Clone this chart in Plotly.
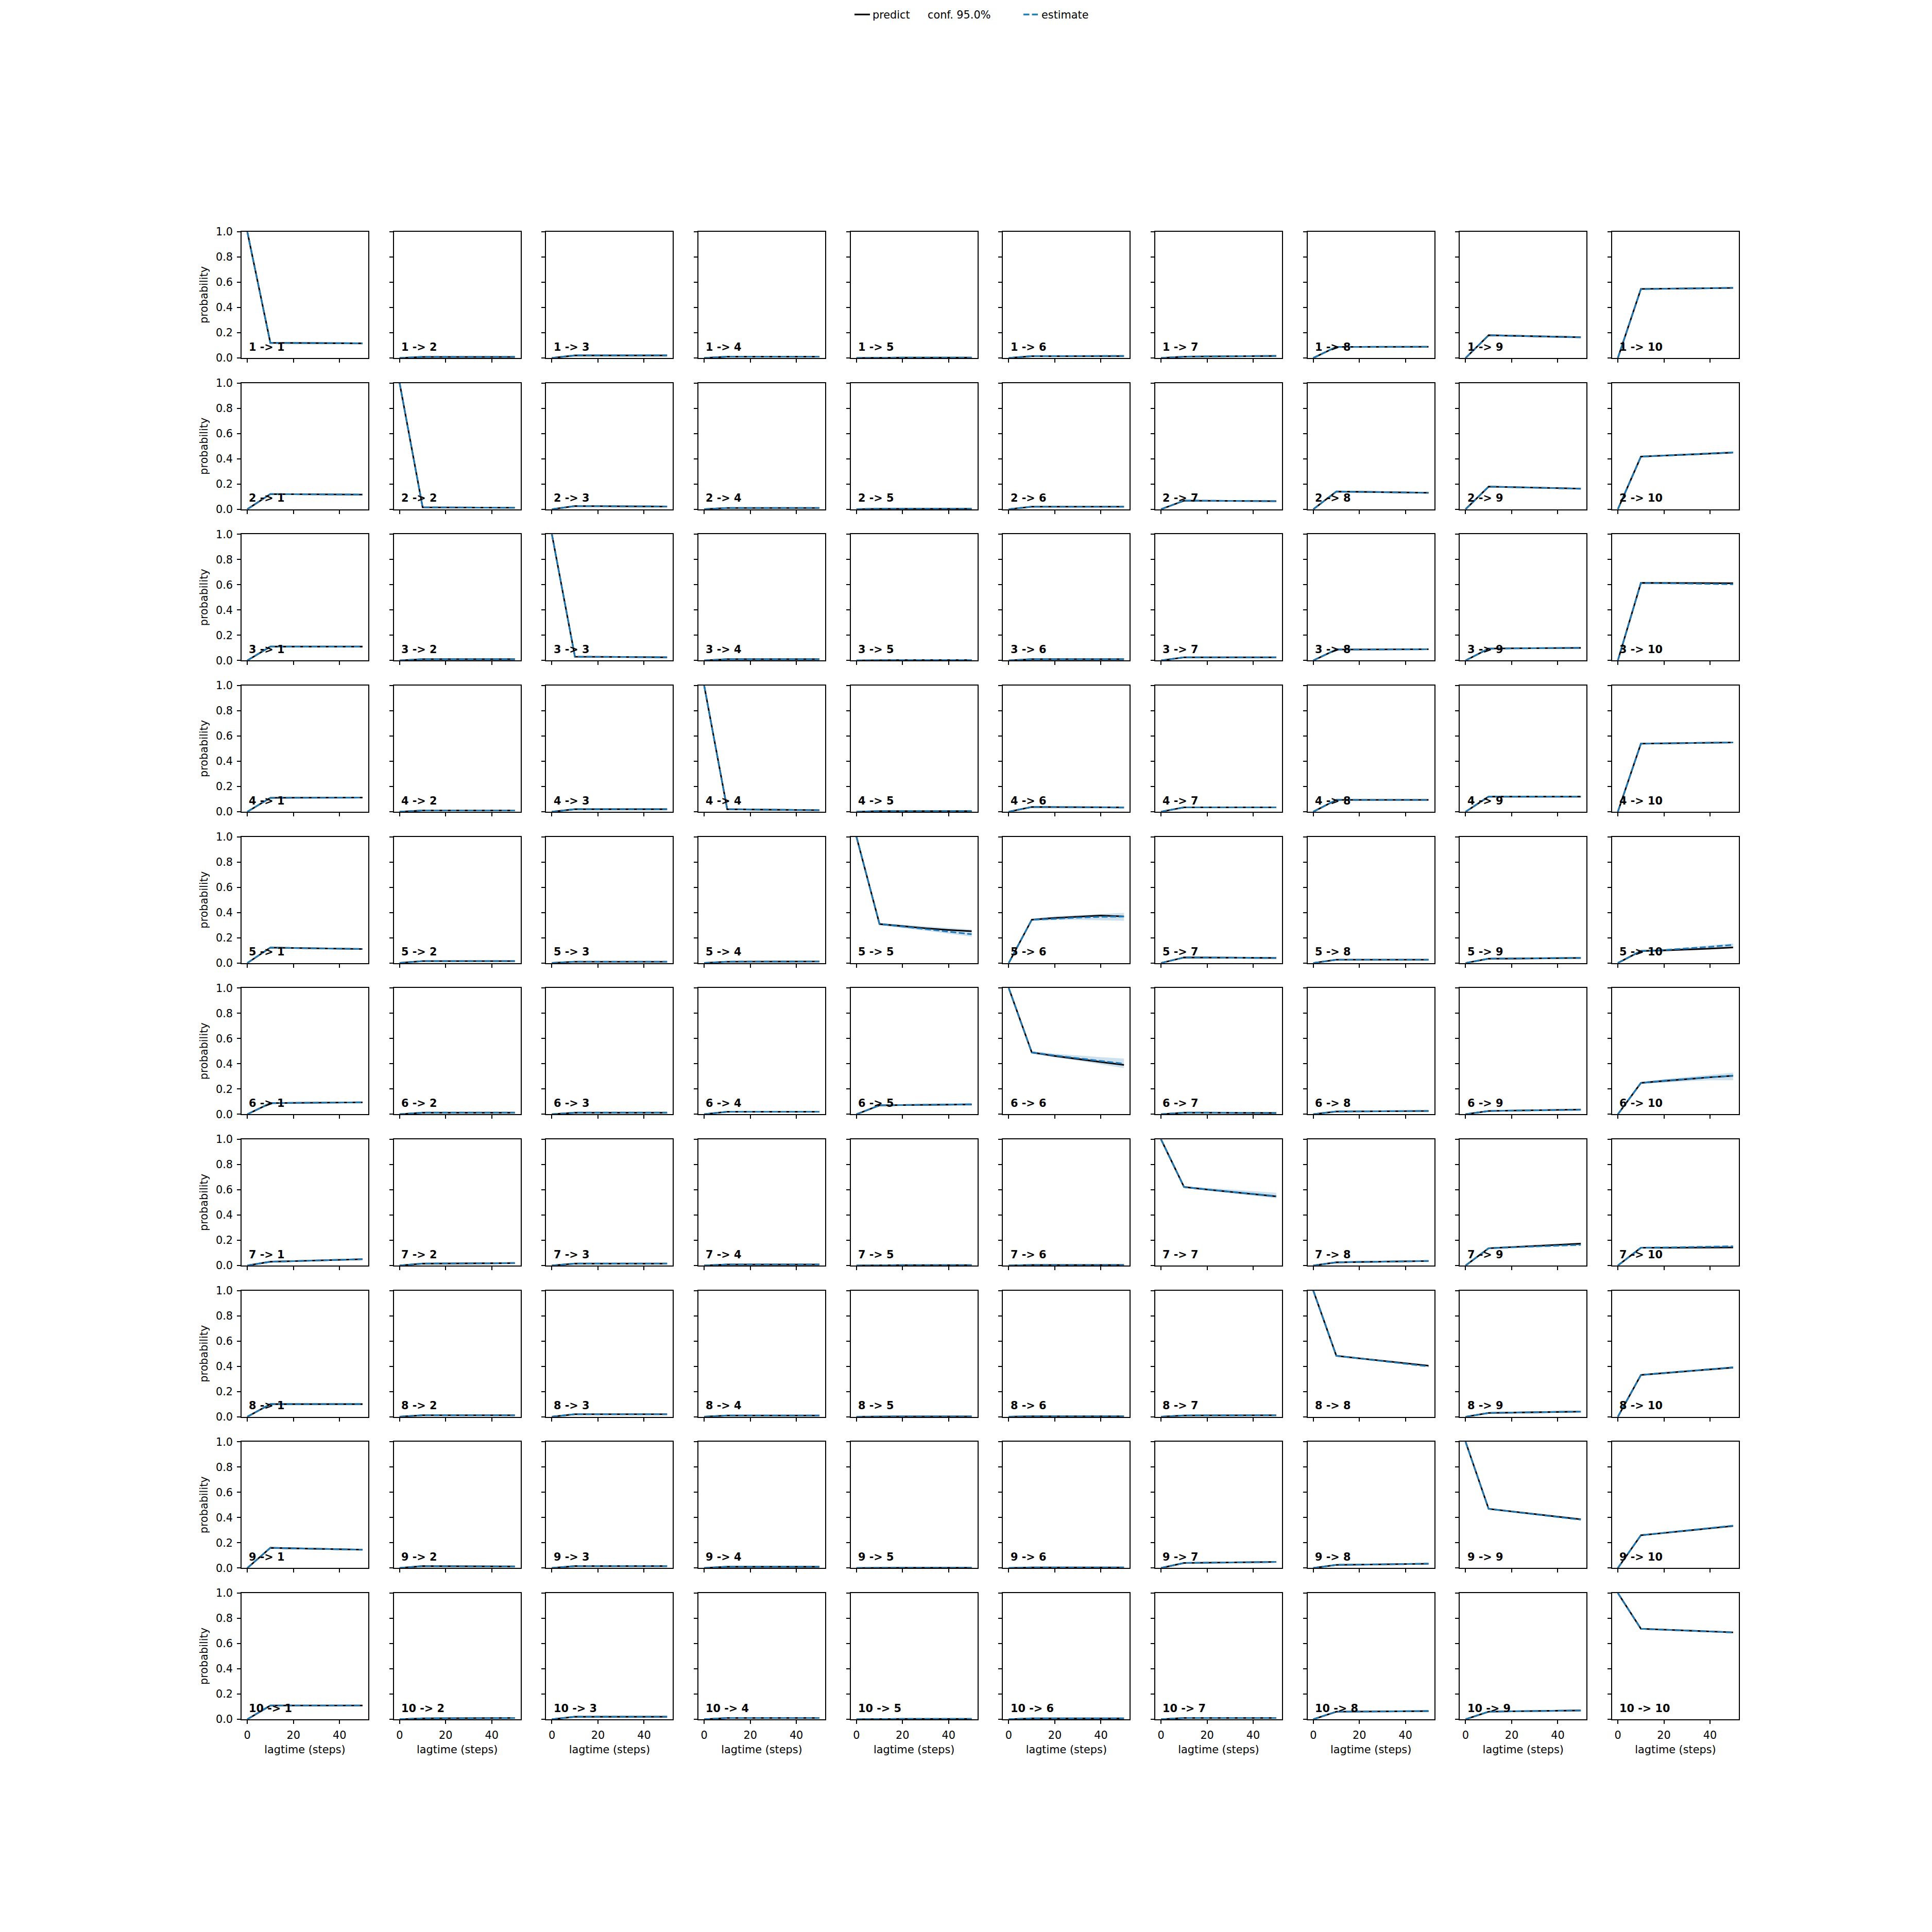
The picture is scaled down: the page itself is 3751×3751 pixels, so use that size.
import plotly.graph_objects as go
from plotly.subplots import make_subplots

# ---------------- data ----------------
LAGTIMES = [0, 10, 20, 30, 40, 50]
STATES = ["1", "2", "3", "4", "5", "6", "7", "8", "9", "10"]
Y_TICKS = [0.0, 0.2, 0.4, 0.6, 0.8, 1.0]
X_TICKS = [0, 20, 40]

# predictions (black solid), one list per target state
PRED_1 = [[1, 0.120, 0.119, 0.118, 0.117, 0.116], [0, 0.008, 0.008, 0.008, 0.008, 0.008],
          [0, 0.020, 0.020, 0.020, 0.020, 0.020], [0, 0.010, 0.010, 0.010, 0.010, 0.010],
          [0, 0.003, 0.003, 0.003, 0.003, 0.003], [0, 0.014, 0.014, 0.015, 0.015, 0.015],
          [0, 0.010, 0.012, 0.013, 0.015, 0.016], [0, 0.088, 0.088, 0.088, 0.089, 0.089],
          [0, 0.180, 0.176, 0.172, 0.168, 0.164], [0, 0.547, 0.549, 0.551, 0.553, 0.555]]
PRED_2 = [[0, 0.120, 0.119, 0.118, 0.117, 0.116], [1, 0.015, 0.014, 0.013, 0.012, 0.012],
          [0, 0.025, 0.024, 0.023, 0.022, 0.021], [0, 0.010, 0.010, 0.010, 0.010, 0.010],
          [0, 0.004, 0.004, 0.004, 0.004, 0.004], [0, 0.020, 0.020, 0.020, 0.020, 0.020],
          [0, 0.068, 0.067, 0.066, 0.065, 0.064], [0, 0.140, 0.138, 0.135, 0.133, 0.130],
          [0, 0.179, 0.175, 0.171, 0.167, 0.163], [0, 0.417, 0.425, 0.433, 0.441, 0.449]]
PRED_3 = [[0, 0.110, 0.110, 0.110, 0.110, 0.110], [0, 0.010, 0.010, 0.010, 0.010, 0.010],
          [1, 0.030, 0.029, 0.027, 0.026, 0.025], [0, 0.010, 0.010, 0.010, 0.010, 0.010],
          [0, 0.003, 0.003, 0.003, 0.003, 0.003], [0, 0.010, 0.010, 0.010, 0.010, 0.010],
          [0, 0.025, 0.025, 0.025, 0.025, 0.025], [0, 0.087, 0.087, 0.088, 0.088, 0.089],
          [0, 0.094, 0.096, 0.097, 0.099, 0.100], [0, 0.615, 0.614, 0.614, 0.613, 0.612]]
PRED_4 = [[0, 0.110, 0.111, 0.111, 0.112, 0.112], [0, 0.010, 0.010, 0.010, 0.010, 0.010],
          [0, 0.020, 0.020, 0.020, 0.020, 0.020], [1, 0.020, 0.018, 0.016, 0.014, 0.012],
          [0, 0.005, 0.005, 0.005, 0.005, 0.005], [0, 0.038, 0.037, 0.036, 0.035, 0.034],
          [0, 0.035, 0.035, 0.035, 0.035, 0.035], [0, 0.094, 0.094, 0.094, 0.094, 0.094],
          [0, 0.120, 0.120, 0.120, 0.120, 0.120], [0, 0.540, 0.542, 0.545, 0.547, 0.549]]
PRED_5 = [[0, 0.122, 0.119, 0.116, 0.113, 0.111], [0, 0.015, 0.015, 0.015, 0.015, 0.015],
          [0, 0.010, 0.010, 0.010, 0.010, 0.010], [0, 0.010, 0.011, 0.011, 0.012, 0.012],
          [1, 0.309, 0.292, 0.275, 0.262, 0.252], [0, 0.343, 0.357, 0.366, 0.376, 0.369],
          [0, 0.044, 0.043, 0.042, 0.041, 0.040], [0, 0.026, 0.026, 0.026, 0.026, 0.026],
          [0, 0.034, 0.035, 0.037, 0.038, 0.040], [0, 0.095, 0.100, 0.106, 0.114, 0.123]]
PRED_6 = [[0, 0.088, 0.090, 0.091, 0.093, 0.094], [0, 0.012, 0.012, 0.012, 0.012, 0.012],
          [0, 0.012, 0.012, 0.012, 0.012, 0.012], [0, 0.020, 0.020, 0.020, 0.020, 0.020],
          [0, 0.071, 0.073, 0.075, 0.077, 0.078], [1, 0.490, 0.462, 0.437, 0.414, 0.391],
          [0, 0.012, 0.012, 0.011, 0.011, 0.010], [0, 0.022, 0.023, 0.024, 0.025, 0.026],
          [0, 0.026, 0.029, 0.031, 0.034, 0.037], [0, 0.248, 0.264, 0.279, 0.293, 0.305]]
PRED_7 = [[0, 0.030, 0.035, 0.040, 0.045, 0.050], [0, 0.015, 0.016, 0.017, 0.018, 0.019],
          [0, 0.015, 0.015, 0.015, 0.015, 0.015], [0, 0.008, 0.008, 0.008, 0.008, 0.008],
          [0, 0.003, 0.003, 0.003, 0.003, 0.003], [0, 0.004, 0.004, 0.004, 0.004, 0.004],
          [1, 0.622, 0.602, 0.585, 0.567, 0.548], [0, 0.025, 0.028, 0.031, 0.034, 0.036],
          [0, 0.137, 0.146, 0.155, 0.164, 0.173], [0, 0.141, 0.141, 0.142, 0.142, 0.143]]
PRED_8 = [[0, 0.100, 0.100, 0.100, 0.100, 0.100], [0, 0.012, 0.012, 0.012, 0.012, 0.012],
          [0, 0.020, 0.020, 0.020, 0.020, 0.020], [0, 0.010, 0.010, 0.010, 0.010, 0.010],
          [0, 0.003, 0.003, 0.003, 0.003, 0.003], [0, 0.004, 0.004, 0.004, 0.004, 0.004],
          [0, 0.010, 0.011, 0.011, 0.012, 0.012], [1, 0.483, 0.463, 0.444, 0.424, 0.405],
          [0, 0.030, 0.033, 0.036, 0.038, 0.041], [0, 0.331, 0.346, 0.361, 0.375, 0.390]]
PRED_9 = [[0, 0.160, 0.156, 0.152, 0.149, 0.145], [0, 0.015, 0.014, 0.013, 0.013, 0.012],
          [0, 0.015, 0.015, 0.015, 0.015, 0.015], [0, 0.010, 0.010, 0.010, 0.010, 0.010],
          [0, 0.002, 0.002, 0.002, 0.002, 0.002], [0, 0.004, 0.004, 0.004, 0.004, 0.004],
          [0, 0.040, 0.042, 0.044, 0.046, 0.048], [0, 0.025, 0.027, 0.030, 0.032, 0.034],
          [1, 0.469, 0.448, 0.427, 0.406, 0.386], [0, 0.260, 0.278, 0.296, 0.315, 0.333]]
PRED_10 = [[0, 0.109, 0.109, 0.109, 0.109, 0.109], [0, 0.007, 0.008, 0.009, 0.009, 0.010],
           [0, 0.020, 0.020, 0.020, 0.020, 0.020], [0, 0.010, 0.010, 0.010, 0.010, 0.010],
           [0, 0.003, 0.003, 0.003, 0.003, 0.003], [0, 0.007, 0.007, 0.007, 0.007, 0.007],
           [0, 0.010, 0.010, 0.010, 0.010, 0.010], [0, 0.060, 0.061, 0.062, 0.064, 0.065],
           [0, 0.060, 0.063, 0.065, 0.068, 0.070], [1, 0.717, 0.710, 0.703, 0.696, 0.689]]

# estimates (blue dashed)
EST_1 = [[1, 0.120, 0.119, 0.118, 0.117, 0.116], [0, 0.009, 0.009, 0.009, 0.009, 0.009],
         [0, 0.021, 0.021, 0.021, 0.021, 0.021], [0, 0.010, 0.010, 0.010, 0.010, 0.010],
         [0, 0.003, 0.003, 0.003, 0.003, 0.003], [0, 0.015, 0.015, 0.015, 0.015, 0.016],
         [0, 0.010, 0.012, 0.013, 0.015, 0.016], [0, 0.088, 0.088, 0.089, 0.089, 0.089],
         [0, 0.180, 0.176, 0.172, 0.168, 0.163], [0, 0.546, 0.548, 0.551, 0.554, 0.556]]
EST_2 = [[0, 0.120, 0.119, 0.118, 0.117, 0.116], [1, 0.015, 0.014, 0.013, 0.013, 0.012],
         [0, 0.025, 0.024, 0.023, 0.022, 0.022], [0, 0.010, 0.010, 0.010, 0.010, 0.010],
         [0, 0.004, 0.004, 0.004, 0.004, 0.004], [0, 0.020, 0.020, 0.020, 0.020, 0.020],
         [0, 0.068, 0.067, 0.066, 0.065, 0.064], [0, 0.140, 0.138, 0.135, 0.133, 0.130],
         [0, 0.179, 0.175, 0.171, 0.167, 0.162], [0, 0.417, 0.425, 0.434, 0.442, 0.450]]
EST_3 = [[0, 0.110, 0.110, 0.110, 0.110, 0.110], [0, 0.010, 0.010, 0.010, 0.010, 0.010],
         [1, 0.030, 0.029, 0.028, 0.027, 0.026], [0, 0.010, 0.010, 0.010, 0.010, 0.010],
         [0, 0.003, 0.003, 0.003, 0.003, 0.003], [0, 0.010, 0.010, 0.010, 0.010, 0.010],
         [0, 0.025, 0.025, 0.025, 0.025, 0.025], [0, 0.087, 0.087, 0.088, 0.088, 0.089],
         [0, 0.094, 0.096, 0.097, 0.099, 0.100], [0, 0.615, 0.612, 0.610, 0.607, 0.604]]
EST_4 = [[0, 0.110, 0.111, 0.111, 0.112, 0.112], [0, 0.010, 0.010, 0.010, 0.010, 0.010],
         [0, 0.020, 0.020, 0.020, 0.020, 0.020], [1, 0.020, 0.018, 0.016, 0.014, 0.012],
         [0, 0.005, 0.005, 0.005, 0.005, 0.005], [0, 0.038, 0.037, 0.036, 0.035, 0.034],
         [0, 0.035, 0.035, 0.035, 0.035, 0.035], [0, 0.094, 0.094, 0.094, 0.094, 0.094],
         [0, 0.120, 0.120, 0.120, 0.120, 0.120], [0, 0.540, 0.542, 0.545, 0.547, 0.549]]
EST_5 = [[0, 0.122, 0.119, 0.116, 0.113, 0.111], [0, 0.015, 0.015, 0.015, 0.015, 0.015],
         [0, 0.010, 0.010, 0.010, 0.010, 0.010], [0, 0.010, 0.011, 0.011, 0.012, 0.012],
         [1, 0.309, 0.289, 0.268, 0.248, 0.228], [0, 0.343, 0.350, 0.360, 0.366, 0.368],
         [0, 0.044, 0.043, 0.042, 0.041, 0.040], [0, 0.026, 0.026, 0.026, 0.026, 0.026],
         [0, 0.034, 0.036, 0.037, 0.039, 0.041], [0, 0.095, 0.103, 0.114, 0.128, 0.144]]
EST_6 = [[0, 0.088, 0.090, 0.091, 0.093, 0.094], [0, 0.012, 0.012, 0.012, 0.012, 0.012],
         [0, 0.012, 0.012, 0.012, 0.012, 0.012], [0, 0.020, 0.020, 0.020, 0.020, 0.020],
         [0, 0.071, 0.073, 0.075, 0.077, 0.078], [1, 0.490, 0.466, 0.444, 0.424, 0.400],
         [0, 0.012, 0.012, 0.011, 0.011, 0.010], [0, 0.022, 0.023, 0.024, 0.025, 0.026],
         [0, 0.026, 0.029, 0.031, 0.033, 0.035], [0, 0.248, 0.266, 0.281, 0.294, 0.306]]
EST_7 = [[0, 0.030, 0.035, 0.040, 0.045, 0.050], [0, 0.015, 0.016, 0.017, 0.018, 0.019],
         [0, 0.015, 0.015, 0.015, 0.015, 0.015], [0, 0.008, 0.008, 0.008, 0.008, 0.008],
         [0, 0.003, 0.003, 0.003, 0.003, 0.003], [0, 0.004, 0.004, 0.004, 0.004, 0.004],
         [1, 0.622, 0.603, 0.586, 0.568, 0.550], [0, 0.025, 0.028, 0.031, 0.034, 0.036],
         [0, 0.137, 0.144, 0.151, 0.158, 0.164], [0, 0.141, 0.143, 0.146, 0.149, 0.152]]
EST_8 = [[0, 0.100, 0.100, 0.100, 0.100, 0.100], [0, 0.012, 0.012, 0.012, 0.012, 0.012],
         [0, 0.020, 0.020, 0.020, 0.020, 0.020], [0, 0.010, 0.010, 0.010, 0.010, 0.010],
         [0, 0.003, 0.003, 0.003, 0.003, 0.003], [0, 0.004, 0.004, 0.004, 0.004, 0.004],
         [0, 0.010, 0.011, 0.011, 0.012, 0.012], [1, 0.483, 0.462, 0.441, 0.420, 0.399],
         [0, 0.030, 0.033, 0.036, 0.038, 0.041], [0, 0.331, 0.347, 0.362, 0.377, 0.392]]
EST_9 = [[0, 0.160, 0.156, 0.152, 0.149, 0.145], [0, 0.015, 0.014, 0.013, 0.013, 0.012],
         [0, 0.015, 0.015, 0.015, 0.015, 0.015], [0, 0.010, 0.010, 0.010, 0.010, 0.010],
         [0, 0.002, 0.002, 0.002, 0.002, 0.002], [0, 0.004, 0.004, 0.004, 0.004, 0.004],
         [0, 0.040, 0.042, 0.044, 0.046, 0.048], [0, 0.025, 0.027, 0.030, 0.032, 0.034],
         [1, 0.469, 0.447, 0.426, 0.404, 0.383], [0, 0.260, 0.279, 0.298, 0.317, 0.336]]
EST_10 = [[0, 0.109, 0.109, 0.109, 0.109, 0.109], [0, 0.007, 0.008, 0.009, 0.009, 0.010],
          [0, 0.020, 0.020, 0.020, 0.020, 0.020], [0, 0.010, 0.010, 0.010, 0.010, 0.010],
          [0, 0.003, 0.003, 0.003, 0.003, 0.003], [0, 0.007, 0.007, 0.007, 0.007, 0.007],
          [0, 0.010, 0.010, 0.010, 0.010, 0.010], [0, 0.060, 0.061, 0.062, 0.064, 0.065],
          [0, 0.060, 0.063, 0.065, 0.068, 0.070], [1, 0.717, 0.710, 0.703, 0.695, 0.688]]

# 95% confidence band (only where visibly wider than the line)
CONF_LO = {
    (5, 5): [1, 0.300, 0.276, 0.256, 0.232, 0.209],
    (5, 6): [0, 0.333, 0.340, 0.342, 0.338, 0.334],
    (5, 10): [0, 0.090, 0.097, 0.105, 0.116, 0.128],
    (6, 5): [0, 0.066, 0.067, 0.067, 0.068, 0.068],
    (6, 6): [1, 0.480, 0.450, 0.425, 0.395, 0.366],
    (6, 10): [0, 0.240, 0.250, 0.262, 0.270, 0.270],
    (7, 7): [1, 0.615, 0.593, 0.572, 0.552, 0.533],
    (7, 9): [0, 0.132, 0.138, 0.144, 0.150, 0.155],
    (7, 10): [0, 0.136, 0.137, 0.138, 0.139, 0.140],
}
CONF_HI = {
    (5, 5): [1, 0.318, 0.303, 0.290, 0.278, 0.266],
    (5, 6): [0, 0.353, 0.370, 0.380, 0.390, 0.398],
    (5, 10): [0, 0.100, 0.110, 0.123, 0.140, 0.155],
    (6, 5): [0, 0.076, 0.080, 0.083, 0.087, 0.090],
    (6, 6): [1, 0.500, 0.480, 0.465, 0.452, 0.441],
    (6, 10): [0, 0.256, 0.278, 0.296, 0.313, 0.330],
    (7, 7): [1, 0.628, 0.615, 0.602, 0.590, 0.577],
    (7, 9): [0, 0.140, 0.149, 0.158, 0.167, 0.175],
    (7, 10): [0, 0.146, 0.150, 0.153, 0.157, 0.160],
}

PRED = [PRED_1, PRED_2, PRED_3, PRED_4, PRED_5, PRED_6, PRED_7, PRED_8, PRED_9, PRED_10]
EST = [EST_1, EST_2, EST_3, EST_4, EST_5, EST_6, EST_7, EST_8, EST_9, EST_10]

# ---------------- figure ----------------
PAGE = 3751
OFF = 8                      # default body margin of the html page
W = H = PAGE - OFF
ML, MR, MT, MB = 469 - OFF, 375, 450 - OFF, 413
N = 10
FONT = "DejaVu Sans"
FS = 20.8
LW = 3.1
SPINE = 1.7

PLOT_L = OFF + ML            # page px of the plot area
PLOT_W = W - ML - MR
PLOT_B = OFF + H - MB
PLOT_H = H - MT - MB


def px_x(p):
    return (p - PLOT_L) / PLOT_W


def px_y(p):
    return (PLOT_B - p) / PLOT_H


fig = make_subplots(rows=N, cols=N, horizontal_spacing=0.01706, vertical_spacing=0.01685)

BLUE = "#1f77b4"
BAND = "rgba(31,119,180,0.22)"

for r in range(N):
    for c in range(N):
        row, col = r + 1, c + 1
        key = (row, col)
        if key in CONF_LO:
            fig.add_trace(go.Scatter(x=LAGTIMES, y=CONF_LO[key], mode="lines",
                                     line=dict(width=0, color=BAND), showlegend=False,
                                     hoverinfo="skip"), row=row, col=col)
            fig.add_trace(go.Scatter(x=LAGTIMES, y=CONF_HI[key], mode="lines",
                                     line=dict(width=0, color=BAND), fill="tonexty",
                                     fillcolor=BAND, showlegend=False,
                                     hoverinfo="skip"), row=row, col=col)
        first = (r == 0 and c == 0)
        fig.add_trace(go.Scatter(x=LAGTIMES, y=PRED[r][c], mode="lines",
                                 line=dict(color="black", width=LW),
                                 name="predict", legend="legend",
                                 showlegend=first), row=row, col=col)
        if first:
            fig.add_trace(go.Scatter(x=[None], y=[None], mode="lines",
                                     line=dict(color="rgba(0,0,0,0)", width=LW),
                                     name="conf. 95.0%", legend="legend2", showlegend=True),
                          row=row, col=col)
        fig.add_trace(go.Scatter(x=LAGTIMES, y=EST[r][c], mode="lines",
                                 line=dict(color=BLUE, width=LW, dash="11.5px,5px"),
                                 name="estimate", legend="legend3",
                                 showlegend=first), row=row, col=col)

        idx = "" if r * N + c == 0 else str(r * N + c + 1)
        fig.add_annotation(text="<b>%s -> %s</b>" % (STATES[r], STATES[c]),
                           xref="x%s domain" % idx, yref="y%s domain" % idx,
                           x=0.05, y=0.03, xanchor="left", yanchor="bottom",
                           showarrow=False, font=dict(family=FONT, size=FS, color="black"))

        fig.update_xaxes(row=row, col=col, range=[-2.5, 52.5], tickvals=X_TICKS,
                         ticks="outside", ticklen=7, tickwidth=SPINE, tickcolor="black",
                         showline=True, linecolor="black", linewidth=SPINE, mirror=True,
                         showgrid=False, zeroline=False, showticklabels=(row == N),
                         ticklabelstandoff=4,
                         tickfont=dict(family=FONT, size=FS, color="black"),
                         title=dict(text="lagtime (steps)" if row == N else None,
                                    font=dict(family=FONT, size=FS, color="black"),
                                    standoff=10))
        fig.update_yaxes(row=row, col=col, range=[0, 1], tickvals=Y_TICKS, tickformat=".1f",
                         ticks="outside", ticklen=7, tickwidth=SPINE, tickcolor="black",
                         showline=True, linecolor="black", linewidth=SPINE, mirror=True,
                         showgrid=False, zeroline=False, showticklabels=(col == 1),
                         ticklabelstandoff=4,
                         tickfont=dict(family=FONT, size=FS, color="black"),
                         title=dict(text="probability" if col == 1 else None,
                                    font=dict(family=FONT, size=FS, color="black"),
                                    standoff=10))

LEG_Y = px_y(28.6)
leg_common = dict(orientation="h", xanchor="left", yanchor="middle", y=LEG_Y,
                  font=dict(family=FONT, size=FS, color="black"),
                  bgcolor="rgba(0,0,0,0)", borderwidth=0, itemwidth=30)

fig.update_layout(
    width=W, height=H,
    margin=dict(l=ML, r=MR, t=MT, b=MB, autoexpand=False),
    paper_bgcolor="white", plot_bgcolor="white",
    font=dict(family=FONT, size=FS, color="black"),
    showlegend=True,
    legend=dict(x=px_x(1654), **leg_common),
    legend2=dict(x=px_x(1761), **leg_common),
    legend3=dict(x=px_x(1982), **leg_common),
)

fig.write_html("out.html")
